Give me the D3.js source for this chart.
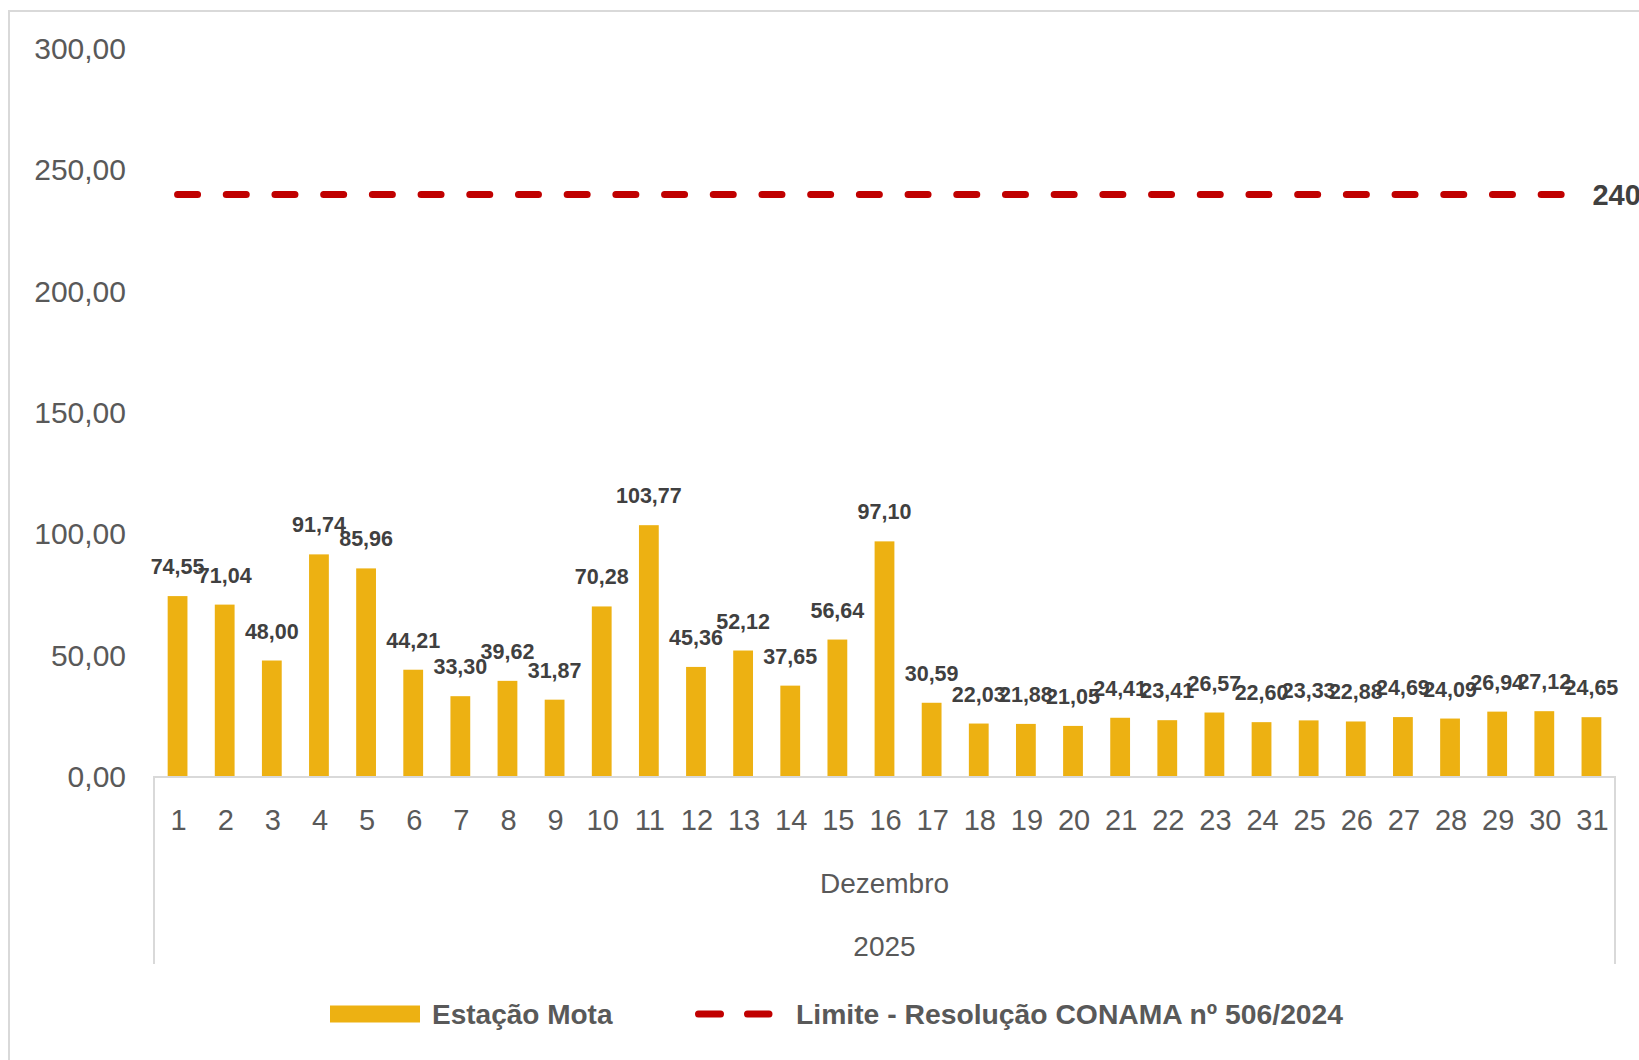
<!DOCTYPE html>
<html>
<head>
<meta charset="utf-8">
<script src="https://cdn.jsdelivr.net/npm/d3@7"></script>
<style>
  html, body { margin: 0; padding: 0; background: #fff; overflow: hidden; }
  svg { display: block; font-family: "Liberation Sans", Arial, sans-serif; }
</style>
</head>
<body>
<div id="chart"></div>
<script>
// values per day, Dezembro 2025
const days = d3.range(1, 32).map(String);
const values = [74.55, 71.04, 48.00, 91.74, 85.96, 44.21, 33.30, 39.62, 31.87, 70.28,
  103.77, 45.36, 52.12, 37.65, 56.64, 97.10, 30.59, 22.03, 21.88, 21.05,
  24.41, 23.41, 26.57, 22.60, 23.33, 22.88, 24.69, 24.09, 26.94, 27.12, 24.65];
const limitValue = 240;
const yTicks = [0, 50, 100, 150, 200, 250, 300];
const monthLabel = "Dezembro";
const yearLabel = "2025";
const seriesName = "Estação Mota";
const limitName = "Limite - Resolução CONAMA nº 506/2024";

const barColor = "#EDB112";
const limitColor = "#C00000";
const gridGrey = "#D9D9D9";

const W = 1639, H = 1060;
const plot = { left: 154, right: 1615, top: 49, bottom: 777 };

const ptBR = d3.formatLocale({ decimal: ",", thousands: ".", grouping: [3], currency: ["R$", ""] });
const fmt = ptBR.format(".2f");

const svg = d3.select("#chart").append("svg")
  .attr("width", W)
  .attr("height", H);

// outer chart frame (runs off the right and bottom edges)
svg.append("rect")
  .attr("x", 9).attr("y", 11)
  .attr("width", W).attr("height", H)
  .attr("fill", "none")
  .attr("stroke", gridGrey)
  .attr("stroke-width", 2);

const x = d3.scaleBand()
  .domain(days)
  .range([plot.left, plot.right])
  .paddingInner(0.58)
  .paddingOuter(0.29);

const y = d3.scaleLinear()
  .domain([0, 300])
  .range([plot.bottom, plot.top]);

// y axis labels
const yAxis = svg.append("g")
  .attr("transform", `translate(${plot.left},0)`)
  .call(d3.axisLeft(y).tickValues(yTicks).tickFormat(fmt).tickSize(0).tickPadding(28));
yAxis.select(".domain").remove();
yAxis.selectAll("text")
  .attr("font-size", 30)
  .attr("font-family", "Liberation Sans, Arial, sans-serif")
  .attr("fill", "#595959");

// bars
svg.append("g").selectAll("rect")
  .data(values)
  .join("rect")
  .attr("x", (d, i) => x(days[i]))
  .attr("y", d => y(d))
  .attr("width", x.bandwidth())
  .attr("height", d => y(0) - y(d))
  .attr("fill", barColor);

// data labels
svg.append("g").selectAll("text")
  .data(values)
  .join("text")
  .attr("x", (d, i) => x(days[i]) + x.bandwidth() / 2)
  .attr("y", d => y(d) - 22)
  .attr("text-anchor", "middle")
  .attr("font-size", 21.5)
  .attr("font-weight", "bold")
  .attr("fill", "#404040")
  .text(d => fmt(d));

// limit line
const xFirst = x(days[0]) + x.bandwidth() / 2;
const xLast = x(days[days.length - 1]) + x.bandwidth() / 2;
svg.append("line")
  .attr("x1", xFirst).attr("x2", xLast - 8)
  .attr("y1", y(limitValue)).attr("y2", y(limitValue))
  .attr("stroke", limitColor)
  .attr("stroke-width", 7)
  .attr("stroke-linecap", "round")
  .attr("stroke-dasharray", "20,28.7");

svg.append("text")
  .attr("x", xLast + 1)
  .attr("y", y(limitValue) + 10.5)
  .attr("font-size", 29)
  .attr("font-weight", "bold")
  .attr("fill", "#404040")
  .text(limitValue);

// category axis box
const axisBottom = 964;
svg.append("path")
  .attr("d", `M${plot.left},${axisBottom}V${plot.bottom}H${plot.right}V${axisBottom}`)
  .attr("fill", "none")
  .attr("stroke", gridGrey)
  .attr("stroke-width", 2);

const xAxis = svg.append("g")
  .attr("transform", `translate(1,${plot.bottom})`)
  .call(d3.axisBottom(x).tickSize(0).tickPadding(32));
xAxis.select(".domain").remove();
xAxis.selectAll("text")
  .attr("font-size", 29)
  .attr("font-family", "Liberation Sans, Arial, sans-serif")
  .attr("fill", "#595959");

const midX = (plot.left + plot.right) / 2;
svg.append("text")
  .attr("x", midX).attr("y", 893)
  .attr("text-anchor", "middle")
  .attr("font-size", 28)
  .attr("fill", "#595959")
  .text(monthLabel);
svg.append("text")
  .attr("x", midX).attr("y", 956)
  .attr("text-anchor", "middle")
  .attr("font-size", 28)
  .attr("fill", "#595959")
  .text(yearLabel);

// legend
const legend = svg.append("g").attr("transform", "translate(0,1014)");
legend.append("rect")
  .attr("x", 330).attr("y", -8.5)
  .attr("width", 90).attr("height", 17)
  .attr("fill", barColor);
legend.append("text")
  .attr("x", 432).attr("y", 10)
  .attr("font-size", 28)
  .attr("font-weight", "bold")
  .attr("fill", "#595959")
  .text(seriesName);
legend.append("line")
  .attr("x1", 698.5).attr("x2", 769)
  .attr("y1", 0).attr("y2", 0)
  .attr("stroke", limitColor)
  .attr("stroke-width", 7)
  .attr("stroke-linecap", "round")
  .attr("stroke-dasharray", "22,27");
legend.append("text")
  .attr("x", 796).attr("y", 10)
  .attr("font-size", 28.3)
  .attr("font-weight", "bold")
  .attr("fill", "#595959")
  .text(limitName);
</script>
</body>
</html>
